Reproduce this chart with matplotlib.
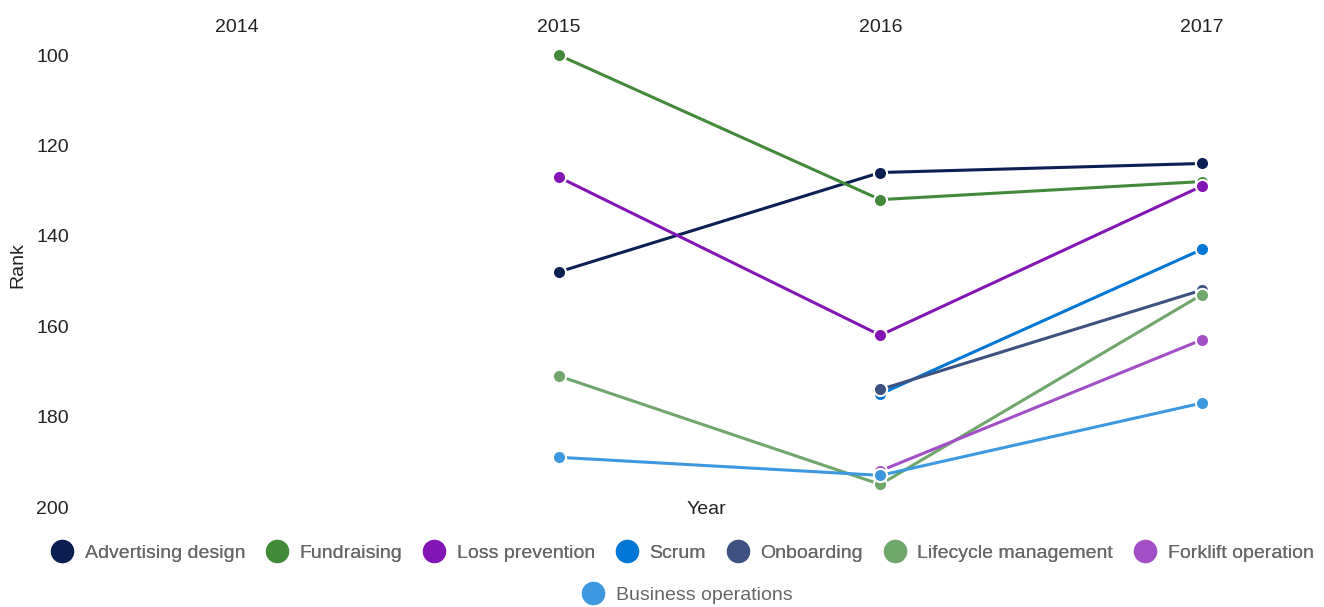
import numpy as np
import matplotlib
matplotlib.use("Agg")
import matplotlib.pyplot as plt
from matplotlib.lines import Line2D

plt.rcParams['font.family'] = ['Liberation Sans', 'DejaVu Sans']

years = [2014, 2015, 2016, 2017]
names = ['Advertising design', 'Fundraising', 'Loss prevention', 'Scrum',
         'Onboarding', 'Lifecycle management', 'Forklift operation',
         'Business operations']
colors = ['#0b1f52', '#428a3a', '#8415b5', '#0077d4',
          '#3d5280', '#6fa66a', '#a24fc7', '#3e98e0']
# rank per year, None = no value
ranks = {
    'Advertising design':   [None, 148, 126, 124],
    'Fundraising':          [None, 100, 132, 128],
    'Loss prevention':      [None, 127, 162, 129],
    'Scrum':                [None, None, 175, 143],
    'Onboarding':           [None, None, 174, 152],
    'Lifecycle management': [None, 171, 195, 153],
    'Forklift operation':   [None, None, 192, 163],
    'Business operations':  [None, 189, 193, 177],
}

W, H = 1324, 607
fig = plt.figure(figsize=(W / 100, H / 100), dpi=100)
left, right, top, bottom = 80, 1300, 55, 507
ax = fig.add_axes([left / W, 1 - bottom / H, (right - left) / W, (bottom - top) / H])

px_per_year = (1202 - 237) / 3
ax.set_xlim(2014 - (237 - left) / px_per_year, 2017 + (right - 1202) / px_per_year)
ax.set_ylim(200, 100)

for name, c in zip(names, colors):
    vals = np.array([np.nan if v is None else v for v in ranks[name]], dtype=float)
    ax.plot(years, vals, color=c, lw=2.2, marker='o', ms=9.5, clip_on=False,
            markeredgecolor='white', markeredgewidth=1.5, solid_capstyle='butt')

ax.xaxis.tick_top()
ax.set_xticks(years)
ax.set_xticklabels([str(y) for y in years])
ax.set_yticks([100, 120, 140, 160, 180, 200])
ax.tick_params(length=0, labelsize=14, colors='#222222', pad=8)
ax.tick_params(axis='x', pad=14)
for s in ax.spines.values():
    s.set_visible(False)

fig.text(18 / W, 1 - 265 / H, 'Rank', rotation=90, ha='center', va='center',
         fontsize=14, color='#222222')
fig.text(706 / W, 1 - 510 / H, 'Year', ha='center', va='center',
         fontsize=14, color='#222222')

handles = [Line2D([], [], ls='none', marker='o', ms=18, color=c, markeredgecolor='white')
           for c in colors]
leg1 = fig.legend(handles[:7], names[:7], loc='center', bbox_to_anchor=(682 / W, 1 - 553 / H),
                  ncol=7, frameon=False, fontsize=14, handletextpad=0.55, columnspacing=1.05,
                  labelcolor='#666666', handlelength=1.2)
leg2 = fig.legend(handles[7:], names[7:], loc='center', bbox_to_anchor=(687 / W, 1 - 595 / H),
                  ncol=1, frameon=False, fontsize=14, handletextpad=0.55,
                  labelcolor='#666666', handlelength=1.2)
fig.add_artist(leg1)

fig.savefig('out.png', dpi=100)
